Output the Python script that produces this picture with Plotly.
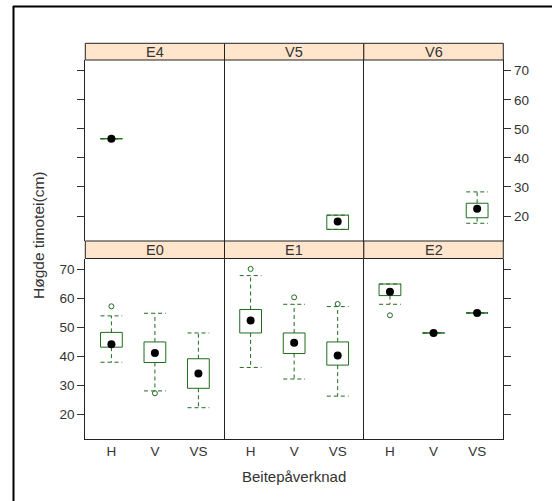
import plotly.graph_objects as go

W, H = 552, 501

# ---------------- data ----------------
panels = ["E4", "V5", "V6", "E0", "E1", "E2"]   # top row, then bottom row
categories = ["H", "V", "VS"]
y_ticks = [20, 30, 40, 50, 60, 70]

# per-group box statistics
grp_panel = ["E0", "E0", "E0", "E1", "E1", "E1", "E2", "E2", "E2", "E4", "V5", "V6"]
grp_cat   = ["H",  "V",  "VS", "H",  "V",  "VS", "H",  "V",  "VS", "H",  "VS", "VS"]
grp_low   = [37.9, 28.0, 22.2, 36.1, 32.1, 26.2, 57.9, 48.0, 54.9, 46.6, 15.4, 17.5]
grp_q1    = [43.1, 37.8, 28.9, 48.0, 40.9, 36.9, 60.9, 48.0, 54.9, 46.6, 15.4, 19.4]
grp_med   = [44.1, 41.1, 34.0, 52.3, 44.6, 40.2, 62.2, 48.0, 54.9, 46.6, 18.1, 22.5]
grp_q3    = [48.2, 44.9, 39.1, 56.1, 48.0, 44.9, 64.9, 48.0, 54.9, 46.6, 20.3, 24.4]
grp_high  = [53.9, 54.8, 48.0, 67.8, 57.9, 57.1, 64.9, 48.0, 54.9, 46.6, 20.3, 28.3]

# outliers
out_panel = ["E0", "E0", "E1", "E1", "E1", "E2"]
out_cat   = ["H",  "V",  "H",  "V",  "VS", "H"]
out_val   = [57.2, 27.2, 70.1, 60.3, 58.0, 54.1]

# ---------------- style ----------------
GREEN = "#1f6b1f"
HW = 0.25          # half box width (category units)
FONT = "Liberation Sans, Arial, sans-serif"
TXT = "#333333"
BORDER = "#222222"

fig = go.Figure()

def axn(p):
    i = panels.index(p) + 1
    return ("x" if i == 1 else f"x{i}"), ("y" if i == 1 else f"y{i}")

for p in panels:
    xa, ya = axn(p)
    wx, wy, bx, by = [], [], [], []
    mx, my = [], []
    for k in range(len(grp_panel)):
        if grp_panel[k] != p:
            continue
        c = categories.index(grp_cat[k]) + 1
        lo, q1, md, q3, hi = grp_low[k], grp_q1[k], grp_med[k], grp_q3[k], grp_high[k]
        # whiskers + caps
        wx += [c, c, None, c, c, None,
               c - HW, c + HW, None, c - HW, c + HW, None]
        wy += [q3, hi, None, q1, lo, None,
               hi, hi, None, lo, lo, None]
        # box
        bx += [c - HW, c + HW, c + HW, c - HW, c - HW, None]
        by += [q1, q1, q3, q3, q1, None]
        mx.append(c)
        my.append(md)
    ox = [categories.index(out_cat[k]) + 1 for k in range(len(out_panel)) if out_panel[k] == p]
    oy = [out_val[k] for k in range(len(out_panel)) if out_panel[k] == p]

    fig.add_trace(go.Scatter(x=wx, y=wy, mode="lines", xaxis=xa, yaxis=ya,
                             line=dict(color=GREEN, width=1, dash="4px,3px"),
                             hoverinfo="skip", showlegend=False))
    fig.add_trace(go.Scatter(x=bx, y=by, mode="lines", xaxis=xa, yaxis=ya,
                             line=dict(color=GREEN, width=1),
                             hoverinfo="skip", showlegend=False))
    fig.add_trace(go.Scatter(x=ox, y=oy, mode="markers", xaxis=xa, yaxis=ya,
                             marker=dict(symbol="circle-open", size=5, color=GREEN,
                                         line=dict(width=1, color=GREEN)),
                             showlegend=False))
    fig.add_trace(go.Scatter(x=mx, y=my, mode="markers", xaxis=xa, yaxis=ya,
                             marker=dict(symbol="circle", size=8, color="black"),
                             showlegend=False))

# ---------------- layout geometry (pixels) ----------------
col_x = [85.3, 224.5, 363.8, 503.3]
row_y = [(60.0, 241.0), (258.5, 439.0)]
strip_y = [(43.3, 60.0), (241.0, 258.5)]

layout = dict(width=W, height=H, margin=dict(l=0, r=0, t=0, b=0), autosize=False,
              paper_bgcolor="white", plot_bgcolor="white",
              font=dict(family=FONT, size=13, color=TXT))
shapes, annotations = [], []

for i, p in enumerate(panels):
    r, c = divmod(i, 3)
    n = "" if i == 0 else str(i + 1)
    x0, x1 = col_x[c] / W, col_x[c + 1] / W
    top, bot = row_y[r]
    layout["xaxis" + n] = dict(
        domain=[x0, x1], anchor="y" + n, range=[0.4, 3.6],
        tickvals=[1, 2, 3], ticktext=categories, showticklabels=(r == 1),
        ticks="", showgrid=False, zeroline=False,
        showline=(r == 1), mirror=False, linecolor=BORDER, linewidth=1,
        tickfont=dict(size=13.5, color=TXT), fixedrange=True)
    yax = dict(
        domain=[1 - bot / H, 1 - top / H], anchor="x" + n, range=[11.4, 73.7],
        tickvals=y_ticks, showgrid=False, zeroline=False,
        showline=True, linecolor=BORDER, linewidth=1,
        tickfont=dict(size=13.5, color=TXT), fixedrange=True)
    if c == 0:
        yax.update(side="left", mirror=False, ticks="outside", ticklen=7, tickcolor="#333",
                   showticklabels=(r == 1))
    elif c == 2:
        yax.update(side="right", mirror=True, ticks="outside", ticklen=7, tickcolor="#333",
                   showticklabels=(r == 0))
    else:
        yax.update(side="left", mirror=False, ticks="", showticklabels=False)
    layout["yaxis" + n] = yax

    s0, s1 = strip_y[r]
    shapes.append(dict(type="rect", xref="paper", yref="paper",
                       x0=x0, x1=x1, y0=1 - s1 / H, y1=1 - s0 / H,
                       fillcolor="#FFE5CC", line=dict(color=BORDER, width=1), layer="above"))
    annotations.append(dict(text=p, xref="paper", yref="paper",
                            x=(x0 + x1) / 2, y=1 - (s0 + s1) / 2 / H,
                            showarrow=False, font=dict(size=14.5, color=TXT),
                            xanchor="center", yanchor="middle"))

# axis titles
annotations.append(dict(text="Høgde timotei(cm)", xref="paper", yref="paper",
                        x=38 / W, y=1 - 236 / H, textangle=-90, showarrow=False,
                        font=dict(size=15.5, color=TXT), xanchor="center", yanchor="middle"))
annotations.append(dict(text="Beitepåverknad", xref="paper", yref="paper",
                        x=294 / W, y=1 - 476 / H, showarrow=False,
                        font=dict(size=15, color=TXT), xanchor="center", yanchor="middle"))

# outer frame (top and left edges)
shapes.append(dict(type="line", xref="paper", yref="paper",
                   x0=13 / W, x1=1, y0=1 - 6.5 / H, y1=1 - 6.5 / H,
                   line=dict(color="black", width=2)))
shapes.append(dict(type="line", xref="paper", yref="paper",
                   x0=13.5 / W, x1=13.5 / W, y0=0, y1=1 - 6 / H,
                   line=dict(color="black", width=2)))

layout["shapes"] = shapes
layout["annotations"] = annotations
fig.update_layout(**layout)

fig.write_html("out.html")
